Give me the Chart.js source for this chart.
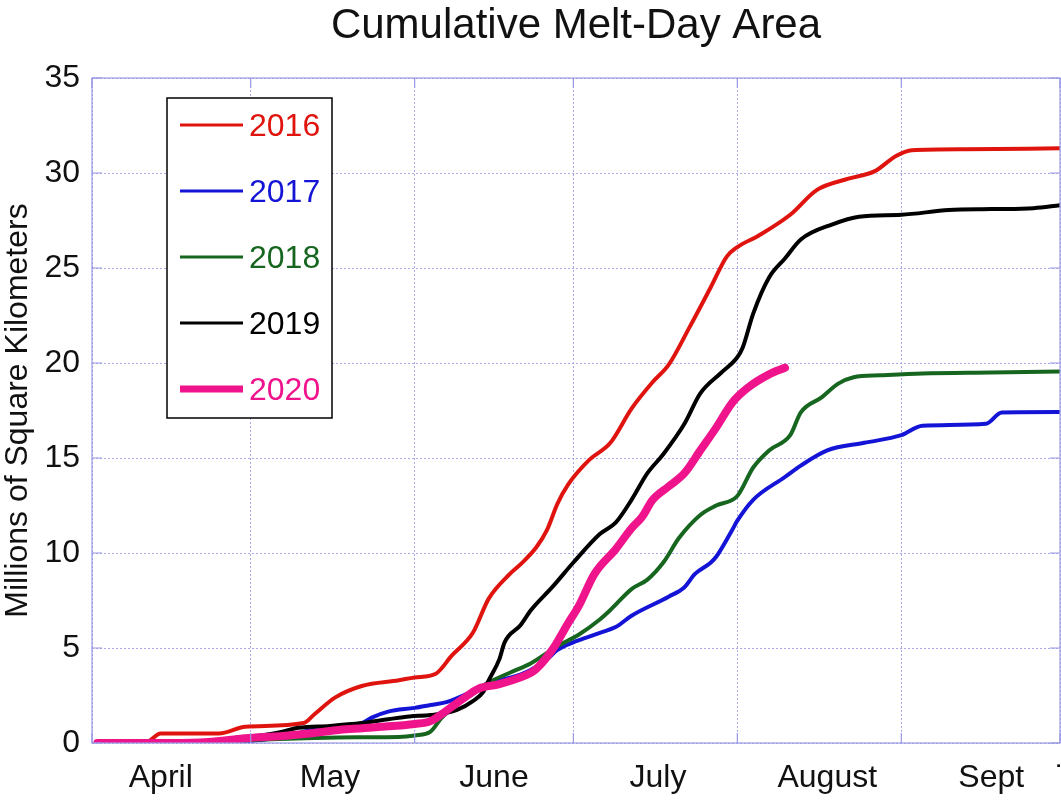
<!DOCTYPE html>
<html><head><meta charset="utf-8">
<script src="https://cdn.jsdelivr.net/npm/chart.js@4.4.1/dist/chart.umd.min.js"></script>
<style>html,body{margin:0;padding:0;background:#fff;overflow:hidden}#wrap{width:1061px;height:800px;position:relative}canvas{display:block}</style>
</head><body><div id="wrap"><canvas id="c"></canvas></div>
<script>
const FONT = "'Liberation Sans', Arial, Helvetica, sans-serif";
const chartTitle = 'Cumulative Melt-Day Area';
const yTitle = 'Millions of Square Kilometers';
const seriesLabels = ['2016','2017','2018','2019','2020'];
const seriesColors = ['#e0140f','#1414d6','#17661f','#000000','#f0148c'];
const seriesWidths = [4,4,4,4,8];

// x values: days since April 1
const days2016 = [1,10,13,24,29,40,42,46,51,58,61,65,68,72,75,79,81,84,86,88,90,94,98,102,106,109,113,117,120,122,126,132,137,143,148,152,155,165,183];
const vals2016 = [0,0,0.5,0.5,0.85,1.05,1.5,2.4,3.0,3.3,3.45,3.65,4.6,5.8,7.6,8.9,9.4,10.3,11.2,12.6,13.6,14.9,15.8,17.6,19.0,19.9,21.9,24.0,25.6,26.1,26.7,27.8,29.1,29.7,30.1,30.9,31.2,31.25,31.3];

const days2017 = [1,25,33,37,40,45,51,53,56,61,64,67,73,76,81,83,86,88,91,94,96,99,102,109,112,114,117,118,121,122,125,131,134,139,146,153,157,169,172,183];
const vals2017 = [0,0,0.2,0.35,0.6,0.8,1.05,1.35,1.65,1.85,2.0,2.15,2.85,3.2,3.6,3.85,4.4,4.9,5.3,5.6,5.8,6.1,6.7,7.7,8.2,8.9,9.5,9.8,11.2,11.7,12.8,14.0,14.6,15.4,15.8,16.2,16.7,16.8,17.4,17.42];

const days2018 = [1,20,30,42,50,58,61,64,66,68,71,75,79,83,88,92,96,98,102,105,108,111,115,118,122,125,128,132,134,138,141,144,149,157,170,183];
const vals2018 = [0,0,0.15,0.26,0.3,0.32,0.4,0.6,1.3,1.8,2.5,3.2,3.7,4.2,5.1,5.7,6.5,7.0,8.1,8.6,9.5,10.8,12.0,12.5,13.0,14.5,15.4,16.2,17.4,18.2,18.9,19.25,19.35,19.45,19.5,19.55];

const days2019 = [1,18,24,28,32,36,39,45,51,56,60,64,69,72,74,75,77,78,81,83,87,91,96,99,102,105,108,112,115,119,122,123,125,128,131,134,140,145,153,162,170,178,183];
const vals2019 = [0,0,0.15,0.3,0.4,0.6,0.8,0.9,1.05,1.25,1.4,1.47,1.74,2.2,2.7,3.3,4.4,5.3,6.2,7.0,8.2,9.5,11.0,11.6,12.8,14.2,15.2,16.8,18.4,19.5,20.3,20.8,22.6,24.5,25.5,26.5,27.3,27.7,27.8,28.05,28.1,28.15,28.3];

const days2020 = [1,15,22,29,36,42,48,54,61,64,67,70,73,77,83,84,87,90,92,95,99,102,104,106,109,112,115,118,121,124,128,131];
const vals2020 = [0,0,0.05,0.25,0.37,0.53,0.72,0.84,1.0,1.15,1.7,2.3,2.85,3.1,3.7,3.9,4.9,6.3,7.2,8.9,10.2,11.3,11.9,12.8,13.5,14.2,15.4,16.6,17.9,18.7,19.4,19.75];

const monthBoundaryDays = [0,30,61,91,122,153,183];
const monthLabelDays = [13,45,76,107,139,170,183];
const monthLabels = ['April','May','June','July','August','Sept','\u02D9'];
const yTickValues = [0,5,10,15,20,25,30,35];

const seriesDays = [days2016,days2017,days2018,days2019,days2020];
const seriesVals = [vals2016,vals2017,vals2018,vals2019,vals2020];

const gridColor = '#a9a9ec';
const axisColor = '#9a9ae4';
const xTickAll = Array.from(new Set(monthBoundaryDays.concat(monthLabelDays))).sort((a,b)=>a-b);

const datasets = seriesLabels.map((lab,i)=>({
  label: lab,
  data: seriesDays[i].map((d,k)=>({x:d, y:seriesVals[i][k]})),
  borderColor: seriesColors[i],
  backgroundColor: seriesColors[i],
  borderWidth: seriesWidths[i],
  pointRadius: 0,
  pointHoverRadius: 0,
  fill: false,
  cubicInterpolationMode: 'monotone',
  borderJoinStyle: 'round',
  borderCapStyle: 'round',
  order: seriesLabels.length - i
}));

const framePlugin = {
  id: 'frame',
  beforeDraw(chart){
    const ctx = chart.ctx;
    ctx.save(); ctx.fillStyle = '#fff'; ctx.fillRect(0,0,chart.width,chart.height); ctx.restore();
  },
  afterDatasetsDraw(chart){
    const {ctx, chartArea:{left,right,top,bottom}, scales:{x,y}} = chart;
    ctx.save();
    ctx.strokeStyle = axisColor; ctx.lineWidth = 1.2;
    ctx.strokeRect(left, top, right-left, bottom-top);
    ctx.beginPath();
    yTickValues.forEach(v=>{
      const py = y.getPixelForValue(v);
      ctx.moveTo(left, py); ctx.lineTo(left+10, py);
      ctx.moveTo(right-10, py); ctx.lineTo(right, py);
    });
    monthBoundaryDays.forEach(d=>{
      const px = x.getPixelForValue(d);
      ctx.moveTo(px, bottom); ctx.lineTo(px, bottom-10);
      ctx.moveTo(px, top); ctx.lineTo(px, top+10);
    });
    ctx.stroke();
    // legend
    const bx = left + 75, by = top + 20, bw = 165, bh = 320;
    ctx.fillStyle = '#fff';
    ctx.fillRect(bx, by, bw, bh);
    ctx.strokeStyle = '#000'; ctx.lineWidth = 1.5;
    ctx.strokeRect(bx, by, bw, bh);
    ctx.font = '32px ' + FONT;
    ctx.textBaseline = 'middle'; ctx.textAlign = 'left';
    chart.data.datasets.forEach((ds,i)=>{
      const ly = by + 27 + 66*i;
      ctx.strokeStyle = ds.borderColor;
      ctx.lineWidth = i === 4 ? 7 : 3;
      ctx.lineCap = 'butt';
      ctx.beginPath(); ctx.moveTo(bx+13, ly); ctx.lineTo(bx+76, ly); ctx.stroke();
      ctx.fillStyle = ds.borderColor;
      ctx.fillText(ds.label, bx+82, ly+2);
    });
    ctx.restore();
  }
};

new Chart(document.getElementById('c'), {
  type: 'line',
  data: { datasets },
  options: {
    responsive: true,
    maintainAspectRatio: false,
    animation: false,
    layout: { padding: { left: 0, right: 1, top: 0, bottom: 0 }, autoPadding: false },
    plugins: {
      legend: { display: false },
      tooltip: { enabled: false },
      title: {
        display: true, text: chartTitle, color: '#111', fullSize: false,
        font: { family: FONT, size: 42, weight: 'normal', lineHeight: 1 },
        padding: { top: 5, bottom: 31 }
      }
    },
    scales: {
      x: {
        type: 'linear', min: 0, max: 183,
        afterBuildTicks: s => { s.ticks = xTickAll.map(v=>({value:v})); },
        afterFit: s => { s.height = 57; s.paddingLeft = 0; s.paddingRight = 0; },
        grid: {
          color: c => (c.tick && monthBoundaryDays.includes(c.tick.value)) ? gridColor : 'rgba(0,0,0,0)',
          lineWidth: 1, drawTicks: false
        },
        border: { display: false, dash: [2,2] },
        ticks: {
          autoSkip: false, maxRotation: 0, minRotation: 0, padding: 16, color: '#111',
          font: { family: FONT, size: 32 },
          callback: v => { const k = monthLabelDays.indexOf(v); return k >= 0 ? monthLabels[k] : ''; }
        }
      },
      y: {
        type: 'linear', min: 0, max: 35,
        afterBuildTicks: s => { s.ticks = yTickValues.map(v=>({value:v})); },
        afterFit: s => { s.width = 92; s.paddingTop = 0; s.paddingBottom = 0; },
        grid: { color: gridColor, lineWidth: 1, drawTicks: false },
        border: { display: false, dash: [2,2] },
        ticks: { padding: 12, color: '#111', font: { family: FONT, size: 32 } },
        title: {
          display: true, text: yTitle, color: '#111',
          font: { family: FONT, size: 32, lineHeight: 1 },
          padding: { top: 2, bottom: 0 }
        }
      }
    }
  },
  plugins: [framePlugin]
});
</script>
</body></html>
